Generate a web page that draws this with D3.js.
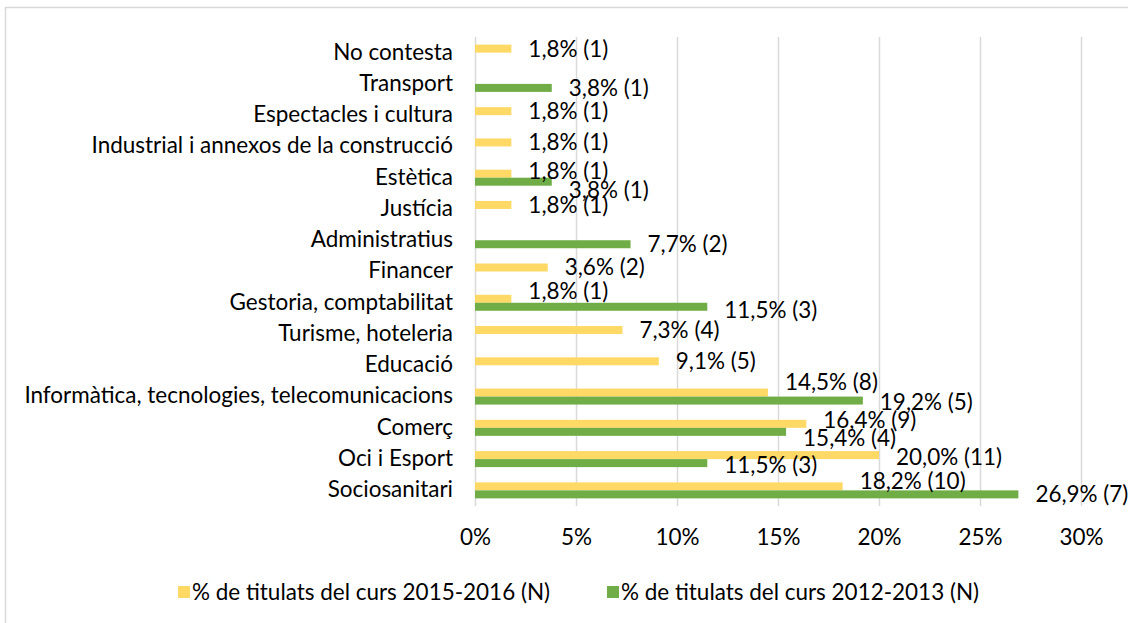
<!DOCTYPE html>
<html lang="ca">
<head>
  <meta charset="UTF-8">
  <title>Titulats per sector</title>
  <style>
    body { margin: 0; background: #fff; overflow: hidden; }
    svg { font-family: 'Lato', 'Open Sans', sans-serif; }
    svg text { fill: #000; }
    .grid line { stroke: #d9d9d9; stroke-width: 1.5px; }
  </style>
</head>
<body>
  <svg width="1128" height="623"></svg>

  <script src="https://d3js.org/d3.v7.min.js"></script>
  <script>
    // categories, top to bottom
    var categories = [
      'No contesta', 'Transport', 'Espectacles i cultura',
      'Industrial i annexos de la construcció', 'Estètica', 'Justícia',
      'Administratius', 'Financer', 'Gestoria, comptabilitat',
      'Turisme, hoteleria', 'Educació',
      'Informàtica, tecnologies, telecomunicacions', 'Comerç',
      'Oci i Esport', 'Sociosanitari'
    ];
    var seriesNames = ['% de titulats del curs 2015-2016 (N)', '% de titulats del curs 2012-2013 (N)'];

    // % and N for each series (null = no bar)
    var pct1516 = [1.8, null, 1.8, 1.8, 1.8, 1.8, null, 3.6, 1.8, 7.3, 9.1, 14.5, 16.4, 20.0, 18.2];
    var n1516   = [1,   null, 1,   1,   1,   1,   null, 2,   1,   4,   5,   8,    9,    11,   10];
    var pct1213 = [null, 3.8, null, null, 3.8, null, 7.7, null, 11.5, null, null, 19.2, 15.4, 11.5, 26.9];
    var n1213   = [null, 1,   null, null, 1,   null, 2,   null, 3,    null, null, 5,    4,    3,    7];

    var xTicks = [0, 5, 10, 15, 20, 25, 30];

    var colors = ['#ffd966', '#70ad47'];

    // manual label nudges (px) for rows where both labels sit close together
    var nudge = {
      'Estètica': [-3, 8],
      'Gestoria, comptabilitat': [-8, 3],
      'Informàtica, tecnologies, telecomunicacions': [-10, 2],
      'Comerç': [-4, 6],
      'Oci i Esport': [2, 2],
      'Sociosanitari': [-5, 0]
    };

    var svg = d3.select('svg');

    // chart area border
    svg.append('rect')
      .attr('x', 5.5).attr('y', 7.5)
      .attr('width', 1140).attr('height', 640)
      .attr('fill', 'none')
      .attr('stroke', '#d9d9d9')
      .attr('stroke-width', 1.5);

    var x = d3.scaleLinear().domain([0, 30]).range([475, 1081]);
    var y = d3.scaleBand().domain(categories).range([37, 506]);
    var bw = y.bandwidth();
    var sub = d3.scaleBand().domain([0, 1]).range([bw / 2 - 8, bw / 2 + 8]);

    // font sizing: fit longest category label to the reference width
    var fs = 20;
    var probe = svg.append('text').style('font-size', fs + 'px')
      .text(categories[11]);
    fs = fs * 429 / probe.node().getComputedTextLength();
    probe.remove();

    // gridlines
    svg.append('g')
      .attr('class', 'grid')
      .attr('transform', 'translate(0,506)')
      .call(d3.axisBottom(x).tickValues(xTicks).tickSize(-(506 - 37)).tickFormat(''))
      .call(function(g) { g.select('.domain').remove(); });

    // x axis labels
    svg.append('g')
      .attr('transform', 'translate(0,537)')
      .call(d3.axisBottom(x).tickValues(xTicks).tickSize(0).tickPadding(0)
        .tickFormat(function(d) { return d + '%'; }))
      .call(function(g) {
        g.select('.domain').remove();
        g.selectAll('text')
          .attr('y', 0).attr('dy', '0.35em')
          .style('font-size', fs + 'px')
          .style('font-family', "'Lato', 'Open Sans', sans-serif")
          .attr('fill', '#000');
      });

    // category labels
    svg.append('g')
      .selectAll('text')
      .data(categories)
      .join('text')
        .attr('x', 453)
        .attr('y', function(d) { return y(d) + bw / 2 - 1; })
        .attr('dy', '0.35em')
        .attr('text-anchor', 'end')
        .style('font-size', fs + 'px')
        .text(function(d) { return d; });

    // rows of bar data
    var rows = [];
    categories.forEach(function(c, i) {
      [[pct1516, n1516], [pct1213, n1213]].forEach(function(s, k) {
        if (s[0][i] != null) rows.push({ cat: c, k: k, v: s[0][i], n: s[1][i] });
      });
    });

    svg.append('g')
      .selectAll('rect')
      .data(rows)
      .join('rect')
        .attr('x', x(0))
        .attr('y', function(d) { return y(d.cat) + sub(d.k); })
        .attr('width', function(d) { return x(d.v) - x(0); })
        .attr('height', sub.bandwidth())
        .attr('fill', function(d) { return colors[d.k]; });

    svg.append('g')
      .selectAll('text')
      .data(rows)
      .join('text')
        .attr('x', function(d) { return x(d.v) + 17; })
        .attr('y', function(d) {
          var dy = nudge[d.cat] ? nudge[d.cat][d.k] : 0;
          return y(d.cat) + sub(d.k) + sub.bandwidth() / 2 + dy;
        })
        .attr('dy', '0.35em')
        .style('font-size', fs + 'px')
        .text(function(d) { return d.v.toFixed(1).replace('.', ',') + '% (' + d.n + ')'; });

    // legend
    var legendX = [178, 607];
    var lg = svg.append('g')
      .selectAll('g')
      .data(seriesNames)
      .join('g')
        .attr('transform', function(d, i) { return 'translate(' + legendX[i] + ',592)'; });
    lg.append('rect')
      .attr('x', 0).attr('y', -6)
      .attr('width', 12).attr('height', 12)
      .attr('fill', function(d, i) { return colors[i]; });
    lg.append('text')
      .attr('x', 14)
      .attr('dy', '0.35em')
      .style('font-size', fs + 'px')
      .text(function(d) { return d; });
  </script>
</body>
</html>
